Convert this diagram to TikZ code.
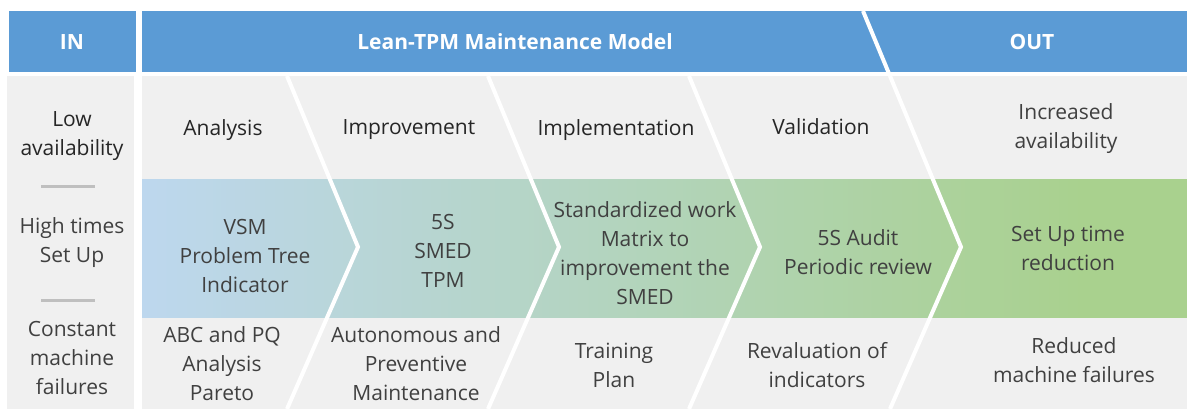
\documentclass[tikz,border=0pt]{standalone}
\usepackage{fontspec}
\setmainfont{Open Sans}
\usepackage{tikz}

\definecolor{hdblue}{HTML}{5B9BD5}
\definecolor{cellgray}{HTML}{F0F0F0}
\definecolor{dashgray}{HTML}{BFBFBF}
\definecolor{txtgray}{HTML}{404040}
\definecolor{bandblue}{HTML}{BDD7EE}
\definecolor{bandgreen}{HTML}{A9D18E}
\pgfdeclarehorizontalshading{bandshade}{100bp}{color(0bp)=(bandblue); color(25bp)=(bandblue); color(70bp)=(bandgreen); color(100bp)=(bandgreen)}

\begin{document}
\begin{tikzpicture}
  [x=1pt,y=-1pt,
   every node/.style={font=\fontsize{21}{29}\selectfont,text=txtgray,align=center},
   headtxt/.style={font=\bfseries\fontsize{21}{29}\selectfont,text=white},
   stagetxt/.style={text=black!85},
   chevsep/.style={draw=white,line width=4pt},
   dashmark/.style={draw=dashgray,line width=3pt}]
  \useasboundingbox (0,0) rectangle (1187,409);

  \fill[hdblue] (9,11) rectangle (136,72);
  \fill[hdblue] (142,11) rectangle (1187,72);
  \fill[cellgray] (7,76) rectangle (134,409);
  \fill[cellgray] (142,76) rectangle (1187,409);
  \shade[shading=bandshade] (142,180) rectangle (1187,317);

  \draw[dashmark] (41,187) -- (95,187);
  \draw[dashmark] (41,300) -- (95,300);

  \foreach \sx in {287,488,689,890}
    \draw[chevsep] (\sx,76) -- (\sx+71,247) -- (\sx,409);
  \draw[chevsep] (863,11) -- (890,76);

  \node[headtxt] (in) at (72,42) {IN};
  \node[headtxt] (model) at (515,42) {Lean-TPM Maintenance Model};
  \node[headtxt] (out) at (1032,42) {OUT};

  \node[stagetxt] (lowav) at (72,136) {Low\\availability};
  \node[stagetxt] (analysis) at (223,130) {Analysis};
  \node[stagetxt] (improve) at (409,130) {Improvement};
  \node[stagetxt] (implement) at (616,130) {Implementation};
  \node[stagetxt] (validate) at (821,127) {Validation};
  \node (incav) at (1066,129) {Increased\\availability};

  \node (hightimes) at (72,243) {High times\\Set Up};
  \node (vsm) at (245,256) {VSM\\Problem Tree\\Indicator};
  \node (fives) at (443,251) {5S\\SMED\\TPM};
  \node (stdwork) at (645,253) {Standardized work\\Matrix to\\improvement the\\SMED};
  \node (audit) at (858,252) {5S Audit\\Periodic review};
  \node (setup) at (1068,248) {Set Up time\\reduction};

  \node (constant) at (72,358) {Constant\\machine\\failures};
  \node (abc) at (222,364) {ABC and PQ\\Analysis\\Pareto};
  \node (auto) at (416,364) {Autonomous and\\Preventive\\Maintenance};
  \node (training) at (614,365) {Training\\Plan};
  \node (reval) at (817,365) {Revaluation of\\indicators};
  \node (reduced) at (1074,360) {Reduced\\machine failures};

\end{tikzpicture}
\end{document}
